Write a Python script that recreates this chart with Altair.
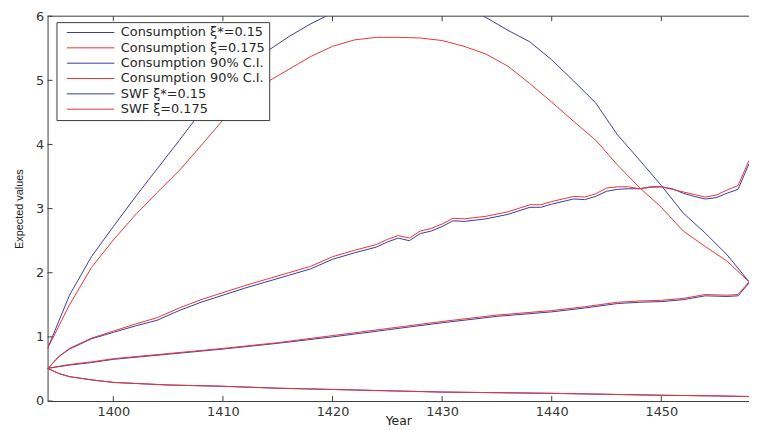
import altair as alt
import pandas as pd

# ---------------- data ----------------
# SWF (the large arch)
arch_years = [1394, 1396, 1398, 1400, 1402, 1404, 1406, 1408, 1410, 1412, 1414,
              1416, 1418, 1420, 1422, 1424, 1426, 1428, 1430, 1432, 1434, 1436,
              1438, 1440, 1442, 1444, 1446, 1448, 1450, 1452, 1454, 1456, 1458]
swf_blue = [0.82, 1.65, 2.25, 2.72, 3.18, 3.62, 4.06, 4.51, 4.88, 5.18, 5.45,
            5.68, 5.88, 6.05, 6.18, 6.27, 6.32, 6.30, 6.25, 6.14, 5.98, 5.78,
            5.60, 5.32, 4.99, 4.65, 4.15, 3.76, 3.36, 2.93, 2.62, 2.28, 1.86]
swf_red = [0.82, 1.50, 2.08, 2.51, 2.90, 3.25, 3.59, 3.98, 4.38, 4.72, 4.97,
           5.17, 5.37, 5.53, 5.63, 5.67, 5.67, 5.66, 5.62, 5.53, 5.41, 5.22,
           4.95, 4.66, 4.36, 4.07, 3.68, 3.33, 3.02, 2.65, 2.41, 2.18, 1.86]

# Consumption 90% C.I. upper bound
ci_up_years = [1394, 1395, 1396, 1398, 1400, 1402, 1404, 1406, 1408, 1410, 1412,
               1414, 1416, 1418, 1420, 1422, 1424, 1425, 1426, 1427, 1428, 1429,
               1430, 1431, 1432, 1433, 1434, 1436, 1438, 1439, 1440, 1442, 1443,
               1444, 1445, 1446, 1447, 1448, 1449, 1450, 1451, 1452, 1453, 1454,
               1455, 1456, 1457, 1458]
ci_up_red = [0.50, 0.69, 0.82, 0.98, 1.09, 1.20, 1.30, 1.45, 1.58, 1.69, 1.80,
             1.90, 2.00, 2.10, 2.25, 2.35, 2.44, 2.52, 2.58, 2.54, 2.65, 2.69,
             2.76, 2.85, 2.84, 2.86, 2.88, 2.95, 3.06, 3.06, 3.11, 3.19, 3.18,
             3.23, 3.32, 3.34, 3.34, 3.31, 3.33, 3.34, 3.30, 3.26, 3.22, 3.18,
             3.21, 3.29, 3.36, 3.75]
ci_up_blue = [0.50, 0.69, 0.81, 0.97, 1.07, 1.17, 1.26, 1.41, 1.54, 1.65, 1.76,
              1.86, 1.96, 2.06, 2.21, 2.31, 2.40, 2.48, 2.54, 2.50, 2.61, 2.65,
              2.72, 2.81, 2.80, 2.82, 2.84, 2.91, 3.02, 3.02, 3.07, 3.15, 3.14,
              3.19, 3.27, 3.30, 3.31, 3.31, 3.34, 3.34, 3.31, 3.24, 3.19, 3.15,
              3.17, 3.24, 3.30, 3.70]

# Consumption 90% C.I. lower bound
ci_lo_years = [1394, 1395, 1396, 1398, 1400, 1405, 1410, 1415, 1420, 1425, 1430,
               1435, 1440, 1445, 1450, 1455, 1458]
ci_lo_blue = [0.51, 0.43, 0.38, 0.33, 0.29, 0.25, 0.23, 0.20, 0.18, 0.16, 0.14,
              0.13, 0.12, 0.105, 0.09, 0.08, 0.07]
ci_lo_red = [0.51, 0.43, 0.38, 0.33, 0.29, 0.25, 0.23, 0.20, 0.18, 0.16, 0.14,
             0.13, 0.12, 0.105, 0.09, 0.08, 0.07]

# Consumption (middle line)
cons_years = [1394, 1396, 1398, 1400, 1405, 1410, 1415, 1420, 1425, 1430, 1435,
              1440, 1443, 1446, 1448, 1450, 1452, 1454, 1456, 1457, 1458]
cons_blue = [0.51, 0.56, 0.60, 0.65, 0.73, 0.81, 0.90, 1.00, 1.11, 1.22, 1.32,
             1.39, 1.45, 1.52, 1.54, 1.55, 1.58, 1.64, 1.63, 1.64, 1.84]
cons_red = [0.51, 0.57, 0.61, 0.66, 0.74, 0.82, 0.91, 1.02, 1.13, 1.24, 1.34,
            1.41, 1.47, 1.54, 1.56, 1.57, 1.60, 1.66, 1.65, 1.66, 1.86]

labels = ["Consumption ξ*=0.15", "Consumption ξ=0.175",
          "Consumption 90% C.I.", "Consumption 90% C.I. ",
          "SWF ξ*=0.15", "SWF ξ=0.175"]

x_ticks = [1400, 1410, 1420, 1430, 1440, 1450]
y_ticks = [0, 1, 2, 3, 4, 5, 6]

BLUE = "#3a3aa6"
RED = "#ec3434"
AX = "#3c3c3c"

# ---------------- table ----------------
rows = []
def add(series, line, years, vals):
    for yr, v in zip(years, vals):
        rows.append({"series": series, "line": line, "year": yr, "value": v})

# blue first so red is drawn on top
add(labels[0], "cons_b", cons_years, cons_blue)
add(labels[2], "ciu_b", ci_up_years, ci_up_blue)
add(labels[2], "cil_b", ci_lo_years, ci_lo_blue)
add(labels[4], "swf_b", arch_years, swf_blue)
add(labels[1], "cons_r", cons_years, cons_red)
add(labels[3], "ciu_r", ci_up_years, ci_up_red)
add(labels[3], "cil_r", ci_lo_years, ci_lo_red)
add(labels[5], "swf_r", arch_years, swf_red)
df = pd.DataFrame(rows)

W, H = 709, 389

xscale = alt.Scale(domain=[1394, 1458], nice=False, zero=False)
yscale = alt.Scale(domain=[0, 6], nice=False)

x_axis = alt.Axis(values=x_ticks, format="d", title="Year", tickSize=0,
                  labelPadding=5, titleY=14, titleBaseline="top", grid=False)
y_axis = alt.Axis(values=y_ticks, title="Expected values", tickSize=0,
                  labelPadding=4, titlePadding=11, grid=False)

# legend line: custom path scaled by sqrt(size)/2 = 6 -> 48 px long stroke
legend_path = "M0,0L8,0"

lines = alt.Chart(df).mark_line(clip=True, strokeWidth=1).encode(
    x=alt.X("year:Q", scale=xscale, axis=x_axis),
    y=alt.Y("value:Q", scale=yscale, axis=y_axis),
    color=alt.Color(
        "series:N",
        scale=alt.Scale(domain=labels, range=[BLUE, RED, BLUE, RED, BLUE, RED]),
        legend=alt.Legend(
            title=None, orient="none", legendX=9, legendY=6,
            symbolType=legend_path, symbolSize=144, symbolStrokeWidth=1,
            symbolFillColor="transparent",
            labelFont="DejaVu Sans", labelFontSize=13, labelColor="#262626",
            labelOffset=48, strokeColor=AX, fillColor="white",
            padding=4, rowPadding=1.5, labelLimit=400,
        ),
    ),
    detail="line:N",
    order="year:Q",
)

xt = pd.DataFrame({"year": x_ticks})
yt = pd.DataFrame({"value": y_ticks})

bottom_ticks = alt.Chart(xt).mark_rule(color=AX, strokeWidth=1).encode(
    x=alt.X("year:Q", scale=xscale, axis=x_axis),
    y=alt.value(H), y2=alt.value(H - 5))
top_ticks = alt.Chart(xt).mark_rule(color=AX, strokeWidth=1).encode(
    x=alt.X("year:Q", scale=xscale, axis=x_axis),
    y=alt.value(0), y2=alt.value(5))
left_ticks = alt.Chart(yt).mark_rule(color=AX, strokeWidth=1).encode(
    y=alt.Y("value:Q", scale=yscale, axis=y_axis),
    x=alt.value(0), x2=alt.value(5))
top_border = alt.Chart(pd.DataFrame({"a": [0]})).mark_rule(color=AX, strokeWidth=1).encode(
    x=alt.value(0), x2=alt.value(W), y=alt.value(0))

chart = alt.layer(lines, bottom_ticks, top_ticks, left_ticks, top_border).properties(
    width=W, height=H,
    autosize=alt.AutoSizeParams(type="none"),
    padding={"left": 40, "top": 6, "right": 0, "bottom": 26},
    background="white",
).configure_view(stroke=None).configure_axis(
    domainColor=AX, domainWidth=1,
    labelFont="DejaVu Sans", labelFontSize=13, labelColor="#333333",
    titleFont="Liberation Sans", titleColor="#222222", titleFontWeight="normal",
).configure_axisX(titleFont="DejaVu Sans", titleFontSize=12.5
).configure_axisY(titleFontSize=11)

chart.save("out.html", embed_options={"renderer": "svg", "actions": False})
